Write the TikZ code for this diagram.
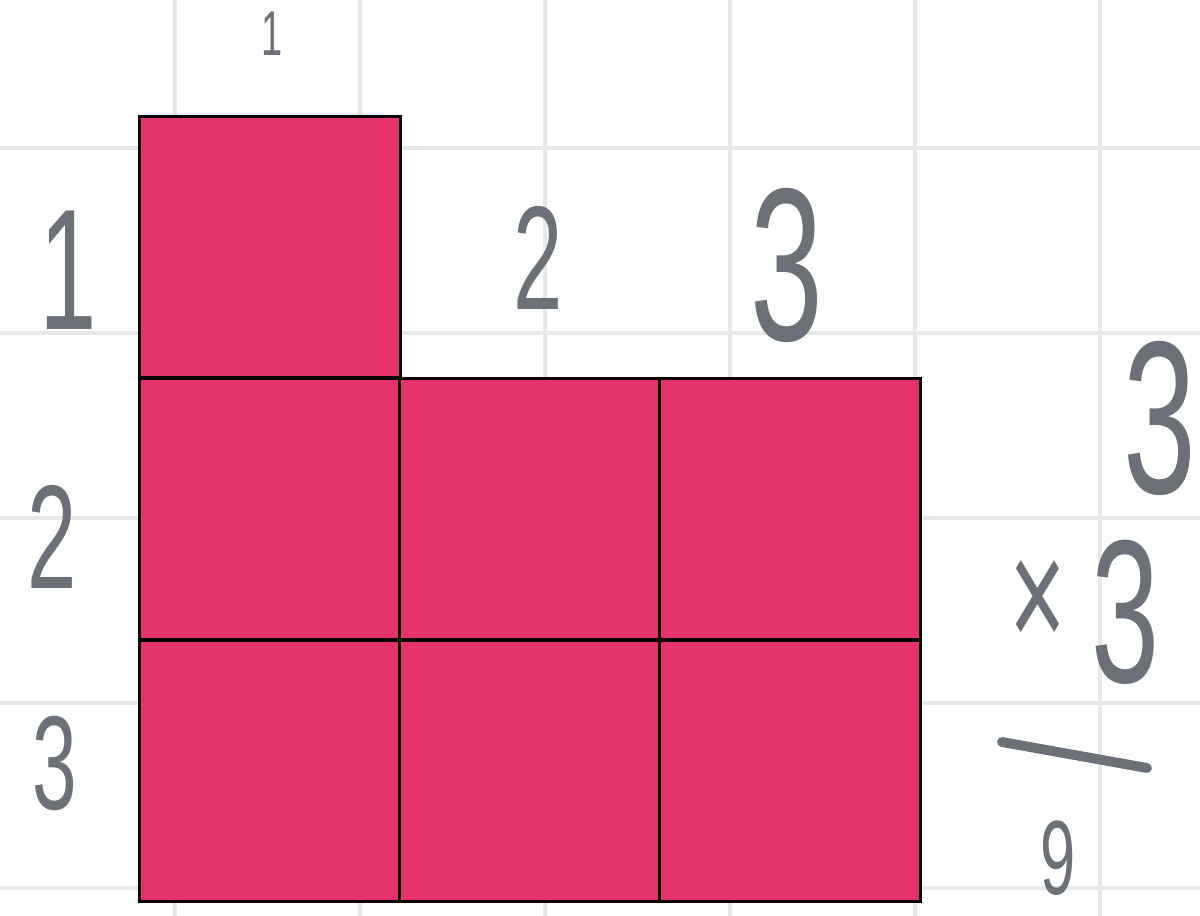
\documentclass[tikz,border=0pt]{standalone}
\usepackage{fontspec}
\setsansfont{Liberation Sans}
\usepackage{graphicx}
\usepackage{xcolor}
\definecolor{cellPink}{HTML}{E6326A}
\definecolor{penGray}{HTML}{6B7177}
\definecolor{gridGray}{HTML}{E8E8E8}
\newcommand{\pensize}[1]{\fontsize{#1}{#1}\selectfont}
\newcommand{\narrow}[1]{\scalebox{0.6}[1]{#1}}
\tikzset{
  gridline/.style={gridGray, line width=1.1pt},
  cell/.style={draw=black, fill=cellPink, line width=0.9pt, minimum size=2.61cm, inner sep=0pt},
  pen/.style={text=penGray, font=\sffamily, inner sep=0pt}
}

\begin{document}
\begin{tikzpicture}[x=0.01cm, y=-0.01cm]
  \useasboundingbox (0,0) rectangle (1200,916);
  \fill[white] (0,0) rectangle (1200,916);
  % ---- squared paper ----
  \foreach \gx in {175,360,...,1100}
    \draw[gridline] (\gx,0) -- (\gx,916);
  \foreach \gy in {148,333,...,888}
    \draw[gridline] (0,\gy) -- (1200,\gy);
  % ---- the shape: one column of 3, then two more columns of 2 ----
  \node[cell] (top) at (270,247.5) {};
  \node[cell] (r2c1) at (270,509) {};
  \node[cell] (r2c2) at (530,509) {};
  \node[cell] (r2c3) at (790,509) {};
  \node[cell] (r3c1) at (270,771) {};
  \node[cell] (r3c2) at (530,771) {};
  \node[cell] (r3c3) at (790,771) {};
  % ---- counts written beside it ----
  \node[pen, font=\sffamily\pensize{18pt}] (colone) at (272,34) {\narrow{1}};
  \node[pen, font=\sffamily\pensize{49pt}] (rowone) at (68,270) {\narrow{1}};
  \node[pen, font=\sffamily\pensize{42pt}] (rowtwo) at (52,537) {\narrow{2}};
  \node[pen, font=\sffamily\pensize{38pt}] (rowthree) at (55,763) {\narrow{3}};
  \node[pen, font=\sffamily\pensize{42pt}] (coltwo) at (538,258) {\narrow{2}};
  \node[pen, font=\sffamily\pensize{62pt}] (colthree) at (787,265) {\narrow{3}};
  % ---- the sum on the right ----
  \node[pen, font=\sffamily\pensize{62pt}] (factora) at (1160,418) {\narrow{3}};
  \node[pen, font=\sffamily\pensize{58pt}] (factorb) at (1085,612)
    {\narrow{\raisebox{9pt}{\pensize{46pt}×}\hspace{12pt}3}};
  \coordinate (barL) at (1002,742);
  \coordinate (barR) at (1147,768);
  \draw[penGray, line width=2.8pt, line cap=round] (barL) -- (barR);
  \node[pen, font=\sffamily\pensize{30pt}] (result) at (1058,858) {\narrow{9}};
\end{tikzpicture}
\end{document}
